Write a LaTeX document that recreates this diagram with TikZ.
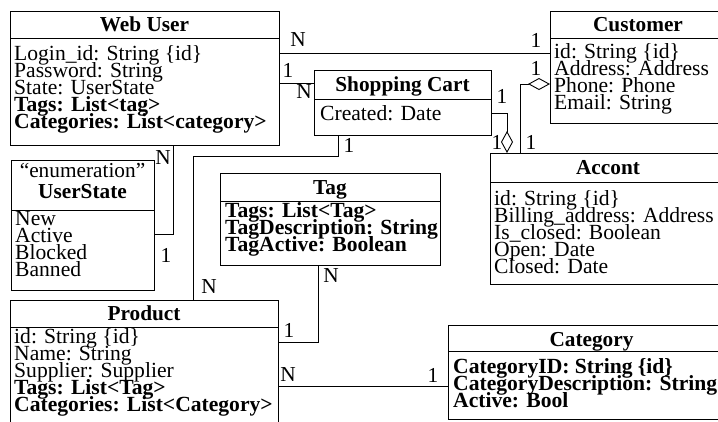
\documentclass[tikz,border=0pt]{standalone}
\usepackage{fontspec}
\setmainfont{Liberation Serif}
\usetikzlibrary{arrows.meta}
\newcommand\attrblock[1]{\vtop{\hsize=400pt\parindent=0pt\raggedright\lineskiplimit=-100pt\baselineskip=17pt\relax #1\par}}
\tikzset{
  classbox/.style={draw, line width=0.9pt, inner sep=0pt, anchor=north west},
  ttl/.style={font=\fontsize{21.3}{17}\selectfont\bfseries, anchor=base, inner sep=0pt},
  stereo/.style={font=\fontsize{21.3}{17}\selectfont, anchor=base, inner sep=0pt},
  attr/.style={font=\fontsize{21.6}{17}\selectfont, anchor=base west, inner sep=0pt},
  battr/.style={font=\fontsize{21.6}{17}\selectfont\bfseries, anchor=base west, inner sep=0pt},
  mult/.style={font=\fontsize{21.3}{17}\selectfont, inner sep=0pt},
  conn/.style={line width=0.9pt},
  agg/.style={conn, -{Diamond[open, length=22pt, width=12pt]}}
}
\begin{document}
\begin{tikzpicture}[x=1pt, y=-1pt]
\useasboundingbox (0,0) rectangle (718,421);
\clip (0,0) rectangle (718,421);
% boxes
\node[classbox, minimum width=269, minimum height=134] (webuser) at (10,11) {};
\node[classbox, minimum width=176, minimum height=112] (customer) at (550,11) {};
\node[classbox, minimum width=177, minimum height=65] (cart) at (314,70) {};
\node[classbox, minimum width=236, minimum height=131] (accont) at (490,153) {};
\node[classbox, minimum width=143, minimum height=130] (userstate) at (11,160) {};
\node[classbox, minimum width=220, minimum height=92] (tag) at (220,173) {};
\node[classbox, minimum width=268, minimum height=140] (product) at (10,300) {};
\node[classbox, minimum width=287, minimum height=94] (category) at (448,325) {};
% dividers
\draw[conn] (webuser.west |- 0,38) -- (webuser.east |- 0,38);
\draw[conn] (customer.west |- 0,38) -- (customer.east |- 0,38);
\draw[conn] (cart.west |- 0,99) -- (cart.east |- 0,99);
\draw[conn] (accont.west |- 0,182) -- (accont.east |- 0,182);
\draw[conn] (userstate.west |- 0,210) -- (userstate.east |- 0,210);
\draw[conn] (tag.west |- 0,201) -- (tag.east |- 0,201);
\draw[conn] (product.west |- 0,327) -- (product.east |- 0,327);
\draw[conn] (category.west |- 0,351) -- (category.east |- 0,351);
% titles
\node[ttl] (webuser-t) at (144.5,31) {Web User};
\node[ttl] (customer-t) at (638,31) {Customer};
\node[ttl] (cart-t) at (402.5,91) {Shopping Cart};
\node[ttl] (accont-t) at (608,174) {Accont};
\node[stereo] (userstate-s) at (82.5,177) {“enumeration”};
\node[ttl] (userstate-t) at (82.5,198) {UserState};
\node[ttl] (tag-t) at (330,194) {Tag};
\node[ttl] (product-t) at (144,320) {Product};
\node[ttl] (category-t) at (591.5,346) {Category};
% attributes
\node[attr] (webuser-a) at (14,60) {\attrblock{Login\_id: String \{id\}\\Password: String\\State: UserState\\\textbf{Tags: List<tag>}\\\textbf{Categories: List<category>}}};
\node[attr] (customer-a) at (554,58) {\attrblock{id: String \{id\}\\Address: Address\\Phone: Phone\\Email: String}};
\node[attr] (cart-a) at (320,120) {Created: Date};
\node[attr] (accont-a) at (494,205) {\attrblock{id: String \{id\}\\Billing\_address: Address\\Is\_closed: Boolean\\Open: Date\\Closed: Date}};
\node[attr] (userstate-a) at (15,225) {\attrblock{New\\Active\\Blocked\\Banned}};
\node[battr] (tag-a) at (225,217) {\attrblock{Tags: List<Tag>\\TagDescription: String\\TagActive: Boolean}};
\node[attr] (product-a) at (14,343) {\attrblock{id: String \{id\}\\Name: String\\Supplier: Supplier\\\textbf{Tags: List<Tag>}\\\textbf{Categories: List<Category>}}};
\node[battr] (category-a) at (453,373) {\attrblock{CategoryID: String \{id\}\\CategoryDescription: String\\Active: Bool}};
% connectors
\draw[conn] (webuser.east |- 0,53) -- (customer.west |- 0,53);
\draw[conn] (webuser.east |- 0,83) -- (cart.west |- 0,83);
\draw[agg] (cart.east |- 0,113) -| (accont.north -| 507,0);
\draw[agg] (accont.north -| 520,0) |- (customer.west |- 0,84);
\draw[conn] (webuser.south -| 173,0) |- (userstate.east |- 0,234);
\draw[conn] (cart.south -| 338,0) |- (193,156) -- (product.north -| 193,0);
\draw[conn] (tag.south -| 318,0) |- (product.east |- 0,342);
\draw[conn] (product.east |- 0,386) -- (category.west |- 0,386);
% multiplicities
\node[mult] (m1) at (298,40) {N};
\node[mult] (m2) at (536,40) {1};
\node[mult] (m3) at (288,70) {1};
\node[mult] (m4) at (304,92) {N};
\node[mult] (m5) at (502,96) {1};
\node[mult] (m6) at (497,142) {1};
\node[mult] (m7) at (536,68) {1};
\node[mult] (m8) at (531,142) {1};
\node[mult] (m9) at (163,158) {N};
\node[mult] (m10) at (166,255) {1};
\node[mult] (m11) at (349,145) {1};
\node[mult] (m12) at (209,287) {N};
\node[mult] (m13) at (331,276) {N};
\node[mult] (m14) at (289,330) {1};
\node[mult] (m15) at (288,375) {N};
\node[mult] (m16) at (433,375) {1};
\end{tikzpicture}
\end{document}
